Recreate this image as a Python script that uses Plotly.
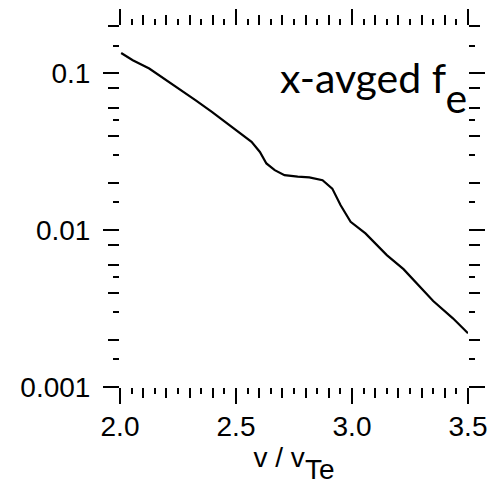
import math
import plotly.graph_objects as go

# ---- data ----
v = [2.005, 2.055, 2.126, 2.190, 2.254, 2.325, 2.396, 2.453, 2.524, 2.567,
     2.603, 2.631, 2.667, 2.709, 2.766, 2.816, 2.873, 2.915, 2.951, 2.994,
     3.058, 3.150, 3.222, 3.350, 3.435, 3.500]
fe = [0.1346, 0.1210, 0.1071, 0.0925, 0.0799, 0.0673, 0.0567, 0.0490, 0.0413, 0.0365,
      0.0315, 0.0266, 0.0241, 0.0224, 0.0219, 0.0217, 0.0208, 0.0184, 0.0144, 0.0113,
      0.00953, 0.00693, 0.00564, 0.00353, 0.00274, 0.00220]

x_major = [2.0, 2.5, 3.0, 3.5]
x_major_text = ["2.0", "2.5", "3.0", "3.5"]
x_mid = [2.0, 2.1, 2.2, 2.3, 2.4, 2.5, 2.6, 2.7, 2.8, 2.9, 3.0, 3.1, 3.2, 3.3, 3.4, 3.5]
x_short = [2.05, 2.15, 2.25, 2.35, 2.45, 2.55, 2.65, 2.75, 2.85, 2.95,
           3.05, 3.15, 3.25, 3.35, 3.45]

y_major = [0.001, 0.01, 0.1]
y_major_text = ["0.001", "0.01", "0.1"]
y_mid = [0.002, 0.004, 0.006, 0.008, 0.02, 0.04, 0.06, 0.08, 0.2]
y_short = [0.0015, 0.003, 0.005, 0.015, 0.03, 0.05, 0.15]

x_range = [2.0, 3.5]
y_range = [math.log10(0.001), math.log10(0.2)]

tick_font = dict(family="Liberation Sans, Arial, sans-serif", size=28, color="black")

fig = go.Figure()
fig.add_trace(go.Scatter(x=v, y=fe, mode="lines", line=dict(color="black", width=2.2),
                         xaxis="x", yaxis="y", showlegend=False, hoverinfo="skip"))
fig.add_trace(go.Scatter(x=v, y=fe, mode="lines", line=dict(color="black", width=2),
                         opacity=0, xaxis="x2", yaxis="y2", showlegend=False, hoverinfo="skip"))

common = dict(showline=False, showgrid=False, zeroline=False, ticks="outside",
              mirror="ticks", tickcolor="black", tickwidth=2)

fig.update_layout(
    width=499, height=485,
    margin=dict(l=120, r=27, t=26, b=98),
    paper_bgcolor="white", plot_bgcolor="white",
    xaxis=dict(range=x_range, tickmode="array", tickvals=x_mid, ticklen=10,
               showticklabels=False,
               minor=dict(tickmode="array", tickvals=x_short, ticks="outside",
                          ticklen=6, tickwidth=2, tickcolor="black"),
               **common),
    yaxis=dict(type="log", range=y_range, tickmode="array", tickvals=y_mid, ticklen=11,
               showticklabels=False,
               minor=dict(tickmode="array", tickvals=y_short, ticks="outside",
                          ticklen=6, tickwidth=2, tickcolor="black"),
               **common),
    xaxis2=dict(overlaying="x", anchor="y2", side="bottom", range=x_range,
                tickmode="array", tickvals=x_major, ticktext=x_major_text, ticklen=16,
                tickfont=tick_font, ticklabelstandoff=-2,
                title=dict(text='v / v<span style="baseline-shift:-12px">Te</span>',
                           font=tick_font, standoff=3),
                **common),
    yaxis2=dict(overlaying="y", anchor="x2", side="left", type="log", range=y_range,
                tickmode="array", tickvals=y_major, ticktext=y_major_text, ticklen=16,
                tickfont=tick_font, ticklabelstandoff=7,
                **common),
    annotations=[dict(text="x-avged f<span style=\"baseline-shift:-20px\">e</span>",
                      xref="paper", yref="paper", x=1.003, y=0.83,
                      xanchor="right", yanchor="middle", showarrow=False,
                      font=dict(family="Lato, sans-serif", size=41, color="black"))],
)

fig.write_html("out.html")
